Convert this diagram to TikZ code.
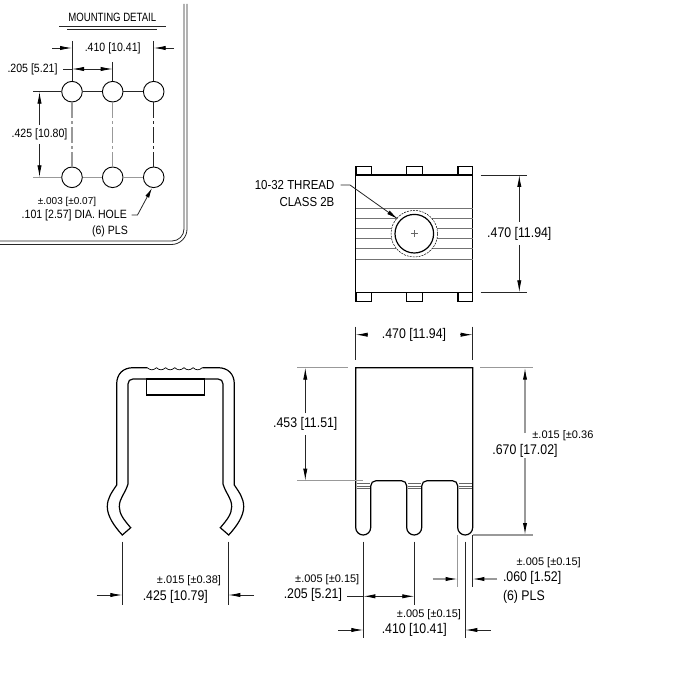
\documentclass[tikz,border=0pt]{standalone}
\usepackage{fontspec}
\setmainfont[FakeStretch=0.88]{Liberation Sans}
\newfontfamily\tolfont{Liberation Sans}
\newfontfamily\headfont[FakeStretch=0.8]{Liberation Sans}
\usetikzlibrary{arrows.meta}
\tikzset{
  body/.style={line width=1.2pt,black},
  fine/.style={line width=0.8pt,black!85},
  pale/.style={line width=1.1pt,black!40},
  dimarrow/.style={fine,-{Latex[length=12pt,width=4.2pt,black]}},
  palearrow/.style={pale,-{Latex[length=12pt,width=4.2pt,black]}},
  label/.style={inner sep=0.5pt,font=\fontsize{14}{16}\selectfont},
  capslabel/.style={inner sep=0.5pt,font=\fontsize{13}{15}\selectfont},
  panellabel/.style={inner sep=0.5pt,font=\fontsize{12}{14}\selectfont},
  tol/.style={inner sep=0.5pt,font=\tolfont\fontsize{11}{13}\selectfont},
  paneltol/.style={inner sep=0.5pt,font=\tolfont\fontsize{10}{12}\selectfont},
  hole/.style={shape=circle,draw=black,line width=0.9pt,fill=white,minimum size=20.6pt,inner sep=0pt},
}
\begin{document}
\begin{tikzpicture}[x=1pt,y=-1pt]
\useasboundingbox (0,0) rectangle (700,700);
% mounting detail panel
\draw[fine] (184,4) -- (184,229) arc (0:90:12) -- (0,241);
\draw[fine] (187,4) -- (187,229) arc (0:90:15.5) -- (0,244.5);
\node[inner sep=0.5pt,font=\headfont\fontsize{12}{14}\selectfont] (title) at (112.3,17) {MOUNTING DETAIL};
\draw[fine] (59,26) -- (166,26);
\draw[fine] (67,29) -- (157,29);
% the six holes
\node[hole] (1) at (72,91.7) {};
\node[hole] (2) at (112.7,91.7) {};
\node[hole] (3) at (153.7,91.7) {};
\node[hole] (4) at (72,177.3) {};
\node[hole] (5) at (112.7,177.3) {};
\node[hole] (6) at (153.7,177.3) {};
\draw[fine] (1) -- (2);
\draw[fine] (2) -- (3);
\draw[pale] (4) -- (5);
\draw[pale] (5) -- (6);
\draw[pale,dash pattern=on 16pt off 3pt on 3pt off 3pt] (1) -- (4);
\draw[pale,dash pattern=on 16pt off 3pt on 3pt off 3pt] (2) -- (5);
\draw[fine,dash pattern=on 16pt off 3pt on 3pt off 3pt] (3) -- (6);
\coordinate (t1) at (72,41);
\coordinate (t3) at (153.7,41);
\coordinate (t2) at (112.7,62);
\coordinate (r1) at (33,91.7);
\coordinate (r4) at (33,177.3);
\draw[fine] (t1) -- (1);
\draw[fine] (t3) -- (3);
\draw[fine] (t2) -- (2);
\draw[fine] (r1) -- (1);
\draw[pale] (r4) -- (4);
% .410
\coordinate (a1) at (52,48);
\coordinate (a2) at (72,48);
\coordinate (a3) at (174,48);
\coordinate (a4) at (153.7,48);
\draw[dimarrow] (a1) -- (a2);
\draw[dimarrow] (a3) -- (a4);
\node[panellabel] (d410) at (112.7,48) {.410 [10.41]};
% .205
\coordinate (b1) at (63,69);
\coordinate (b2) at (72,69);
\coordinate (b3) at (112.7,69);
\coordinate (b4) at (92,69);
\draw[fine] (b1) -- (b2);
\draw[dimarrow] (b4) -- (b2);
\draw[dimarrow] (b4) -- (b3);
\node[panellabel] (d205) at (32.5,69) {.205 [5.21]};
% .425
\coordinate (c1) at (39.5,91.7);
\coordinate (c2) at (39.5,177.3);
\coordinate (c3) at (39.5,125);
\coordinate (c4) at (39.5,144);
\draw[dimarrow] (c3) -- (c1);
\draw[dimarrow] (c4) -- (c2);
\node[panellabel] (d425) at (39.5,134) {.425 [10.80]};
% hole callout
\node[paneltol] (tolhole) at (67,201.5) {±.003 [±0.07]};
\node[panellabel,anchor=east] (dia) at (127.5,215) {.101 [2.57] DIA. HOLE};
\node[panellabel] (pls1) at (110,231) {(6) PLS};
\coordinate (e1) at (131.7,215);
\coordinate (e2) at (137.5,215);
\coordinate (e3) at (152,188);
\draw[fine,-{Latex[length=10pt,width=4.2pt,black]}] (e1) -- (e2) -- (e3);
% top view
\draw[body] (355.7,175) rectangle (472.7,292.3);
\draw[body] (356,175) -- (356,166.7) -- (371.3,166.7) -- (371.3,175);
\draw[body] (406.7,175) -- (406.7,166.7) -- (422.3,166.7) -- (422.3,175);
\draw[body] (458,175) -- (458,166.7) -- (472.7,166.7) -- (472.7,175);
\draw[body] (356,292.3) -- (356,301.7) -- (371.3,301.7) -- (371.3,292.3);
\draw[body] (406.7,292.3) -- (406.7,301.7) -- (422.3,301.7) -- (422.3,292.3);
\draw[body] (458,292.3) -- (458,301.7) -- (472.7,301.7) -- (472.7,292.3);
\foreach \y in {209,219,229,239,249,259}
  \draw[line width=1pt,black!55] (356,\y) -- (472.7,\y);
\node[shape=circle,draw=black,dash pattern=on 2pt off 1pt,fill=white,line width=0.5pt,minimum size=46.6pt,inner sep=0pt] (tap) at (414.3,233.7) {};
\node[shape=circle,draw=black,line width=1.2pt,fill=white,minimum size=38.6pt,inner sep=0pt] (bore) at (414.3,233.7) {};
\draw[line width=0.4pt,black!60] (410.8,233.7) -- (417.8,233.7);
\draw[line width=0.4pt,black!60] (414.3,230.2) -- (414.3,237.2);
\node[capslabel,anchor=east] (thread) at (335,185) {10-32 THREAD};
\node[capslabel,anchor=east] (class) at (335,202.3) {CLASS 2B};
\coordinate (f1) at (340.7,185);
\coordinate (f2) at (350,185);
\coordinate (f3) at (398.3,219.3);
\draw[fine,-{Latex[length=12pt,width=4.2pt,black]}] (f1) -- (f2) -- (f3);
\coordinate (g1) at (480.7,175);
\coordinate (g2) at (527,175);
\coordinate (g3) at (480.7,292.3);
\coordinate (g4) at (527,292.3);
\draw[fine] (g1) -- (g2);
\draw[fine] (g3) -- (g4);
\coordinate (g5) at (519.3,175);
\coordinate (g6) at (519.3,292.3);
\coordinate (g7) at (519.3,222);
\coordinate (g8) at (519.3,245);
\draw[dimarrow] (g7) -- (g5);
\draw[dimarrow] (g8) -- (g6);
\node[label] (d470a) at (519.3,233.5) {.470 [11.94]};
% clip, side view
\draw[body] (147.3,367.7) -- (133,367.7) .. controls (123,367.7) and (116.7,374) .. (116.7,384)
  -- (116.7,485) .. controls (112,492) and (107.3,498) .. (107.3,506.7)
  .. controls (107.3,516) and (114,526) .. (122.3,535) -- (130.7,527.7)
  .. controls (124,520) and (119.3,514) .. (119.3,506.7)
  .. controls (119.3,498) and (125,494) .. (128,484) -- (128,384)
  .. controls (128,381) and (130,379) .. (133,379) -- (218,379)
  .. controls (221,379) and (223,381) .. (223,384) -- (223,484)
  .. controls (226,494) and (231.7,498) .. (231.7,506.7)
  .. controls (231.7,514) and (227,520) .. (220.3,527.7) -- (228.7,535)
  .. controls (237,526) and (243.7,516) .. (243.7,506.7)
  .. controls (243.7,498) and (239,492) .. (234.3,485) -- (234.3,384)
  .. controls (234.3,374) and (228,367.7) .. (218,367.7) -- (202.3,367.7);
\foreach \x in {147.3,156.47,165.63,174.8,183.97,193.13}
  \draw[line width=0.7pt] (\x,367.7) .. controls (\x+3,370.5) and (\x+6,370.5) .. (\x+9.17,367.7);
\draw[body] (146.7,379) rectangle (204.3,395);
\coordinate (h1) at (122.3,541.7);
\coordinate (h2) at (122.3,605);
\coordinate (h3) at (228.3,541.7);
\coordinate (h4) at (228.3,605);
\draw[fine] (h1) -- (h2);
\draw[fine] (h3) -- (h4);
\coordinate (h5) at (96.7,595);
\coordinate (h6) at (122.3,595);
\coordinate (h7) at (254,595);
\coordinate (h8) at (228.3,595);
\draw[dimarrow] (h5) -- (h6);
\draw[dimarrow] (h7) -- (h8);
\node[tol] (tolclip) at (189,581) {±.015 [±0.38]};
\node[label] (d425b) at (175.3,597) {.425 [10.79]};
% front view
\draw[body] (370.7,527.5) -- (370.7,486) .. controls (370.7,483) and (373,480.7) .. (376,480.7)
  -- (401.5,480.7) .. controls (404.5,480.7) and (406.7,483) .. (406.7,486) -- (406.7,527.5)
  arc (180:0:7.5) -- (421.7,486)
  .. controls (421.7,483) and (424,480.7) .. (427,480.7) -- (452.5,480.7)
  .. controls (455.5,480.7) and (457.7,483) .. (457.7,486) -- (457.7,527.5)
  arc (180:0:7.5) -- (472.7,367.7)
  -- (355.7,367.7) -- (355.7,527.5) arc (180:0:7.5);
\foreach \y in {483.3,485.7,488.3} {
  \draw[line width=0.4pt,black!60] (357,\y) -- (369.5,\y);
  \draw[line width=0.4pt,black!60] (408,\y) -- (420.5,\y);
  \draw[line width=0.4pt,black!60] (459,\y) -- (471.5,\y);
}
% .470 over front view
\coordinate (k1) at (355.7,326.7);
\coordinate (k2) at (355.7,360);
\coordinate (k3) at (472.7,326.7);
\coordinate (k4) at (472.7,360);
\draw[fine] (k1) -- (k2);
\draw[fine] (k3) -- (k4);
\coordinate (k5) at (368,334.7);
\coordinate (k6) at (355.7,334.7);
\coordinate (k7) at (460,334.7);
\coordinate (k8) at (472.7,334.7);
\draw[dimarrow] (k5) -- (k6);
\draw[dimarrow] (k7) -- (k8);
\node[label] (d470b) at (414,334.5) {.470 [11.94]};
% .453
\coordinate (m1) at (297,367.7);
\coordinate (m2) at (348.3,367.7);
\coordinate (m3) at (297,480.7);
\coordinate (m4) at (362.7,480.7);
\draw[pale] (m1) -- (m2);
\draw[pale] (m3) -- (m4);
\coordinate (m5) at (305.3,367.7);
\coordinate (m6) at (305.3,480.7);
\coordinate (m7) at (305.3,413);
\coordinate (m8) at (305.3,435);
\draw[dimarrow] (m7) -- (m5);
\draw[dimarrow] (m8) -- (m6);
\node[label] (d453) at (305.3,424) {.453 [11.51]};
% .670
\coordinate (n1) at (480,367.7);
\coordinate (n2) at (533.3,367.7);
\coordinate (n3) at (472.7,535);
\coordinate (n4) at (533.3,535);
\draw[pale] (n1) -- (n2);
\draw[pale] (n3) -- (n4);
\coordinate (n5) at (525,367.7);
\coordinate (n6) at (525,535);
\coordinate (n7) at (525,433);
\coordinate (n8) at (525,458);
\draw[palearrow] (n7) -- (n5);
\draw[palearrow] (n8) -- (n6);
\node[label] (d670) at (525,451) {.670 [17.02]};
\node[tol,anchor=west] (tol670) at (531.7,436) {±.015 [±0.36};
% pin widths below
\coordinate (p1) at (363.3,541.7);
\coordinate (p2) at (363.3,638.3);
\coordinate (p3) at (414.3,541.7);
\coordinate (p4) at (414.3,605);
\coordinate (p5) at (457.7,535);
\coordinate (p6) at (457.7,586.7);
\coordinate (p7) at (465.3,541.7);
\coordinate (p8) at (465.3,638.3);
\coordinate (p9) at (472.3,535);
\coordinate (p10) at (472.3,586.7);
\draw[fine] (p1) -- (p2);
\draw[fine] (p3) -- (p4);
\draw[pale] (p5) -- (p6);
\draw[fine] (p7) -- (p8);
\draw[fine] (p9) -- (p10);
% .060
\coordinate (q1) at (432.7,579);
\coordinate (q2) at (457.7,579);
\coordinate (q3) at (497.3,579);
\coordinate (q4) at (472.3,579);
\draw[palearrow] (q1) -- (q2);
\draw[palearrow] (q3) -- (q4);
\node[tol,anchor=west] (tol060) at (516,562.7) {±.005 [±0.15]};
\node[label,anchor=west] (d060) at (502.3,578) {.060 [1.52]};
\node[label,anchor=west] (pls2) at (502.3,596.7) {(6) PLS};
% .205
\coordinate (s1) at (347.3,596.3);
\coordinate (s2) at (363.3,596.3);
\coordinate (s3) at (388,596.3);
\coordinate (s4) at (414.3,596.3);
\draw[fine] (s1) -- (s2);
\draw[dimarrow] (s3) -- (s2);
\draw[dimarrow] (s3) -- (s4);
\node[tol,anchor=east] (tol205) at (360,580) {±.005 [±0.15]};
\node[label,anchor=east] (d205b) at (342.7,595.3) {.205 [5.21]};
% .410
\coordinate (u1) at (338.3,630);
\coordinate (u2) at (363.3,630);
\coordinate (u3) at (490.7,630);
\coordinate (u4) at (465.3,630);
\draw[dimarrow] (u1) -- (u2);
\draw[dimarrow] (u3) -- (u4);
\node[tol] (tol410) at (429,614.3) {±.005 [±0.15]};
\node[label] (d410b) at (414.3,630) {.410 [10.41]};
\end{tikzpicture}
\end{document}
